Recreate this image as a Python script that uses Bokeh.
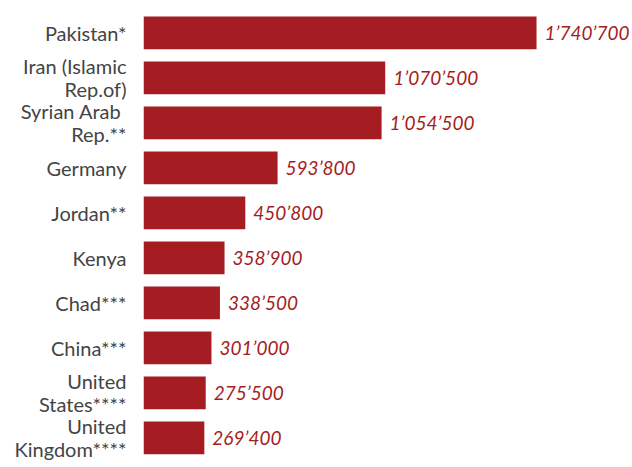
from bokeh.plotting import figure
from bokeh.models import Range1d, FixedTicker, ColumnDataSource
from bokeh.core.properties import value
from bokeh.embed import file_html
from bokeh.resources import INLINE

countries = ["Pakistan*", "Iran (Islamic\nRep.of)", "Syrian Arab \nRep.**", "Germany",
             "Jordan**", "Kenya", "Chad***", "China***", "United\nStates****", "United\nKingdom****"]
refugees = [1740700, 1070500, 1054500, 593800, 450800, 358900, 338500, 301000, 275500, 269400]

idx = list(range(len(countries)))
labels = [f"{v:,}".replace(",", "\u2019") for v in refugees]

src = ColumnDataSource(dict(y=idx, v=refugees, lab=labels))

RED = "#A51D23"

p = figure(width=632, height=467, output_backend="svg", toolbar_location=None,
           x_range=Range1d(0, 2165700), y_range=Range1d(9.66, -0.718),
           min_border_left=143, min_border_right=0, min_border_top=0, min_border_bottom=0)
p.outline_line_color = None
p.grid.visible = False
p.xaxis.visible = False

p.hbar(y="y", right="v", left=0, height=0.727, source=src, fill_color=RED, line_color=None)
p.text(x="v", y="y", text="lab", source=src, x_offset=8, text_baseline="middle",
       text_align="left", text_font=value("Lato"), text_font_style="italic",
       text_font_size="19px", text_color=RED)

ax = p.yaxis[0]
ax.ticker = FixedTicker(ticks=idx)
ax.major_label_overrides = {i: c for i, c in zip(idx, countries)}
ax.axis_line_color = None
ax.major_tick_line_color = None
ax.minor_tick_line_color = None
ax.major_tick_out = 0
ax.major_tick_in = 0
ax.major_label_standoff = 17
ax.major_label_text_font = "Lato"
ax.major_label_text_font_size = "20px"
ax.major_label_text_color = "#444444"
ax.major_label_text_line_height = 0.95

open("out.html", "w").write(file_html(p, INLINE))
